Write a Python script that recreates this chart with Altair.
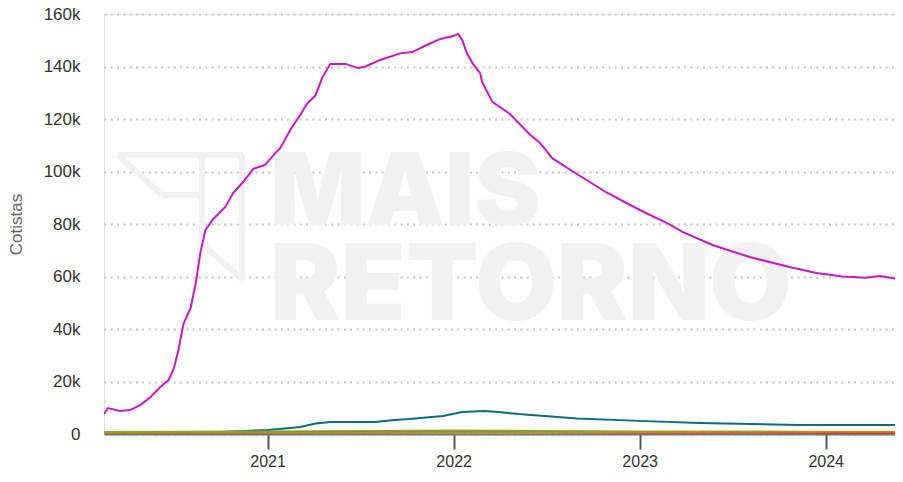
import altair as alt
import pandas as pd

# ---- data ----
mag_dates = ["2020-02-15","2020-02-23","2020-03-17","2020-04-06","2020-04-26","2020-05-16","2020-06-05",
             "2020-06-21","2020-07-01","2020-07-10","2020-07-20","2020-08-03","2020-08-13","2020-08-22",
             "2020-09-01","2020-09-17","2020-10-10","2020-10-26","2020-11-14","2020-12-04","2020-12-27",
             "2021-01-16","2021-01-26","2021-02-15","2021-03-06","2021-03-20","2021-04-05","2021-04-18",
             "2021-05-04","2021-06-03","2021-06-28","2021-07-12","2021-08-10","2021-09-18","2021-10-12",
             "2021-11-07","2021-12-06","2021-12-31","2022-01-10","2022-01-18","2022-01-27","2022-02-08",
             "2022-02-22","2022-02-26","2022-03-18","2022-04-21","2022-05-31","2022-06-19","2022-07-14",
             "2022-08-23","2022-09-25","2022-10-28","2022-12-06","2023-01-15","2023-02-23","2023-03-26",
             "2023-05-24","2023-08-05","2023-10-22","2023-12-14","2024-02-03","2024-03-20","2024-04-16",
             "2024-05-31"]
mag_vals = [7600, 9900, 8800, 9100, 11000, 14000, 18000,
            20600, 25000, 32000, 42000, 48000, 57500, 69000,
            77700, 82000, 86500, 92000, 96000, 101000, 102500,
            107000, 109000, 116000, 121500, 126000, 129000, 135600,
            141000, 141000, 139400, 140000, 142500, 145000, 145500,
            148000, 150500, 151600, 152400, 150000, 145000, 141000,
            137500, 134000, 126500, 122000, 114000, 111000, 105000,
            100000, 96000, 92000, 88000, 84000, 80400, 77000,
            72000, 67400, 63600, 61300, 60000, 59500, 60200,
            58700]

teal_dates = ["2020-02-15","2020-08-03","2021-01-01","2021-02-15","2021-03-06","2021-04-05","2021-05-04",
              "2021-07-31","2021-09-07","2021-10-06","2021-12-11","2022-01-18","2022-03-02","2022-03-31",
              "2022-05-08","2022-08-31","2022-12-31","2023-04-28","2023-11-11","2024-05-31"]
teal_vals = [0, 300, 1500, 2300, 2700, 4000, 4600,
             4600, 5300, 5700, 6900, 8400, 8800, 8400,
             7600, 5900, 5000, 4200, 3400, 3400]

small_dates = ["2020-02-15", "2021-01-01", "2022-01-01", "2023-01-01", "2024-05-31"]
green_vals = [800, 1000, 1300, 1000, 700]
red_vals = [200, 500, 700, 500, 400]
olive_vals = [500, 550, 600, 750, 900]

series_names = ["A", "B", "C", "D", "E"]
series_colors = ["#c41ac4", "#0b7070", "#6db33f", "#e8261c", "#a89a1a"]

year_ticks = [2021, 2022, 2023, 2024]
y_ticks = [0, 20000, 40000, 60000, 80000, 100000, 120000, 140000, 160000]

# ---- table ----
rows = []
for d, v in zip(mag_dates, mag_vals):
    rows.append({"s": "A", "date": d, "v": v})
for d, v in zip(teal_dates, teal_vals):
    rows.append({"s": "B", "date": d, "v": v})
for name, vals in (("C", green_vals), ("D", red_vals), ("E", olive_vals)):
    for d, v in zip(small_dates, vals):
        rows.append({"s": name, "date": d, "v": v})
df = pd.DataFrame(rows)
df["date"] = pd.to_datetime(df["date"])

W, H = 791, 420
WM = "#f1f1f1"

x_scale = alt.Scale(domain=[alt.DateTime(year=2020, month=2, date=15),
                            alt.DateTime(year=2024, month=5, date=16)])

# watermark (decoration)
wm1 = alt.Chart(pd.DataFrame({"t": ["MAIS"]})).mark_text(
    font="Inter", fontWeight=900, fontSize=100, color=WM,
    align="left", baseline="alphabetic"
).encode(text="t:N", x=alt.value(166), y=alt.value(211))

wm2 = alt.Chart(pd.DataFrame({"t": ["RETORNO"]})).mark_text(
    font="Inter", fontWeight=900, fontSize=106, color=WM,
    align="left", baseline="alphabetic"
).encode(text="t:N", x=alt.value(166), y=alt.value(306))

logo_segs = pd.DataFrame({
    "x": [14, 14, 58, 98, 138, 99],
    "x2": [139, 58, 98, 98, 138, 139],
    "y": [141, 141, 181, 141, 141, 231],
    "y2": [141, 181, 181, 231, 266, 266],
})
logo = alt.Chart(logo_segs).mark_rule(color=WM, strokeWidth=6).encode(
    x=alt.X("x:Q", scale=None), x2="x2:Q",
    y=alt.Y("y:Q", scale=None), y2="y2:Q",
)

lines = alt.Chart(df).mark_line(strokeWidth=2, clip=True).encode(
    x=alt.X("date:T", scale=x_scale, title=None,
            axis=alt.Axis(values=[alt.DateTime(year=y, month=1, date=1) for y in year_ticks],
                          format="%Y", grid=False, domain=True, domainColor="#777",
                          domainWidth=2, ticks=True, tickColor="#555", tickWidth=2, tickSize=15,
                          labelFont="Liberation Sans", labelFontSize=16, labelColor="#333",
                          labelPadding=4, labelAlign="center")),
    y=alt.Y("v:Q", scale=alt.Scale(domain=[0, 160000], nice=False),
            title="Cotistas",
            axis=alt.Axis(values=y_ticks,
                          labelExpr="datum.value == 0 ? '0' : format(datum.value / 1000, 'd') + 'k'",
                          domain=False, ticks=False,
                          grid=True, gridColor="#c4c4c4", gridDash=[2, 4.3], gridWidth=2,
                          labelFont="Liberation Sans", labelFontSize=17, labelColor="#333",
                          labelPadding=24, titleFont="Liberation Sans", titleFontSize=17,
                          titleFontWeight="normal", titleColor="#666", titlePadding=18)),
    color=alt.Color("s:N", scale=alt.Scale(domain=series_names, range=series_colors), legend=None),
    order=alt.Order("date:T"),
    detail="s:N",
)

chart = alt.layer(logo, wm1, wm2, lines).properties(
    width=W, height=H,
    autosize=alt.AutoSizeParams(type="none"),
    padding={"left": 96, "top": 6, "right": 0, "bottom": 40},
).configure_view(stroke=None).configure(background="white")

chart.save("out.html", embed_options={"renderer": "svg", "actions": False})
